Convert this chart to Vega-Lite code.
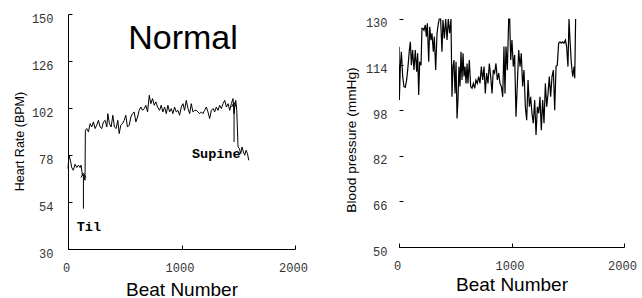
{
  "$schema": "https://vega.github.io/schema/vega-lite/v6.json",
  "background": "white",
  "padding": {"left": 13, "top": 12, "right": 5, "bottom": 0},
  "spacing": 36,
  "config": {
    "view": {"stroke": null},
    "axis": {
      "grid": false,
      "domainColor": "black",
      "domainWidth": 1,
      "tickColor": "black",
      "tickSize": -4,
      "labelFont": "Liberation Mono",
      "labelFontSize": 12,
      "labelColor": "#333333",
      "labelFlush": false,
      "titleFont": "Liberation Sans",
      "titleFontWeight": "normal",
      "titleColor": "black"
    },
    "axisX": {"labelPadding": 17, "labelOffset": -2, "titleFontSize": 19, "titlePadding": 4, "format": "d"},
    "axisY": {"labelPadding": 19, "labelOffset": 4, "titleFontSize": 12.5, "titlePadding": 5}
  },
  "datasets": {
    "hr": [
      {"beat":0,"v":71},{"beat":9,"v":77.9},{"beat":21,"v":75.3},{"beat":33,"v":71.6},{"beat":47,"v":70.2},{"beat":62,"v":73.3},{"beat":77,"v":71.6},{"beat":92,"v":72.8},{"beat":106,"v":71.6},{"beat":115,"v":72.8},{"beat":127,"v":67.6},{"beat":139,"v":67.6},{"beat":150,"v":65.1},{"beat":153,"v":90.6},{"beat":165,"v":91.5},{"beat":180,"v":89.8},{"beat":195,"v":94},{"beat":209,"v":92.3},{"beat":224,"v":94.9},{"beat":239,"v":91.5},{"beat":253,"v":93.2},{"beat":268,"v":95.7},{"beat":283,"v":92.3},{"beat":298,"v":91.5},{"beat":312,"v":94.9},{"beat":327,"v":95.7},{"beat":342,"v":92.3},{"beat":351,"v":99.1},{"beat":365,"v":94},{"beat":380,"v":92.3},{"beat":395,"v":98.3},{"beat":409,"v":92.3},{"beat":424,"v":91.5},{"beat":439,"v":95.7},{"beat":451,"v":88.9},{"beat":465,"v":93.2},{"beat":480,"v":94},{"beat":495,"v":95.7},{"beat":509,"v":98.3},{"beat":524,"v":92.3},{"beat":539,"v":93.2},{"beat":554,"v":97.4},{"beat":568,"v":99.1},{"beat":583,"v":100},{"beat":598,"v":94.9},{"beat":613,"v":97.4},{"beat":627,"v":100.8},{"beat":642,"v":102.5},{"beat":657,"v":100.8},{"beat":671,"v":101.7},{"beat":686,"v":103.4},{"beat":701,"v":100},{"beat":716,"v":108.5},{"beat":730,"v":104.2},{"beat":745,"v":106.8},{"beat":760,"v":103.4},{"beat":774,"v":105.1},{"beat":789,"v":102.5},{"beat":807,"v":100.8},{"beat":821,"v":103.4},{"beat":836,"v":100},{"beat":851,"v":102.5},{"beat":866,"v":99.1},{"beat":880,"v":103.4},{"beat":895,"v":100},{"beat":910,"v":101.7},{"beat":924,"v":99.1},{"beat":939,"v":102.5},{"beat":954,"v":100},{"beat":969,"v":100.8},{"beat":983,"v":98.3},{"beat":998,"v":102.5},{"beat":1013,"v":104.2},{"beat":1027,"v":100.8},{"beat":1042,"v":105.9},{"beat":1057,"v":101.7},{"beat":1072,"v":99.1},{"beat":1086,"v":104.2},{"beat":1101,"v":100},{"beat":1116,"v":100.8},{"beat":1130,"v":100.8},{"beat":1145,"v":100},{"beat":1160,"v":99.1},{"beat":1175,"v":100},{"beat":1189,"v":99.1},{"beat":1204,"v":100.8},{"beat":1219,"v":102.5},{"beat":1233,"v":100},{"beat":1248,"v":96.6},{"beat":1263,"v":100.8},{"beat":1278,"v":101.7},{"beat":1292,"v":100},{"beat":1307,"v":102.5},{"beat":1322,"v":100.8},{"beat":1336,"v":103.4},{"beat":1351,"v":101.7},{"beat":1366,"v":104.2},{"beat":1381,"v":105.9},{"beat":1395,"v":102.5},{"beat":1410,"v":104.2},{"beat":1425,"v":100.8},{"beat":1439,"v":104.2},{"beat":1454,"v":106.8},{"beat":1463,"v":99.1},{"beat":1469,"v":102.5},{"beat":1478,"v":105.9},{"beat":1487,"v":100.8},{"beat":1498,"v":82.1},{"beat":1510,"v":81.3},{"beat":1522,"v":78.7},{"beat":1534,"v":82.1},{"beat":1545,"v":79.6},{"beat":1557,"v":77.9},{"beat":1569,"v":80.4},{"beat":1581,"v":78.7},{"beat":1593,"v":75.3}
    ],
    "bp": [
      {"beat":0,"v":120.3},{"beat":3,"v":101.6},{"beat":12,"v":113.3},{"beat":21,"v":118.5},{"beat":33,"v":109.8},{"beat":44,"v":106.3},{"beat":56,"v":106},{"beat":68,"v":108.6},{"beat":80,"v":113.3},{"beat":92,"v":119.1},{"beat":101,"v":122},{"beat":110,"v":113.8},{"beat":121,"v":119.1},{"beat":133,"v":112.1},{"beat":145,"v":119.1},{"beat":157,"v":111.5},{"beat":166,"v":118},{"beat":175,"v":103.3},{"beat":184,"v":115},{"beat":196,"v":113.8},{"beat":204,"v":126.7},{"beat":213,"v":126.7},{"beat":222,"v":126},{"beat":234,"v":127.9},{"beat":243,"v":123.8},{"beat":252,"v":128.5},{"beat":264,"v":115},{"beat":273,"v":127.3},{"beat":284,"v":122.6},{"beat":293,"v":125},{"beat":305,"v":118.5},{"beat":314,"v":123.8},{"beat":326,"v":112.1},{"beat":338,"v":125},{"beat":350,"v":128.5},{"beat":358,"v":130},{"beat":370,"v":130},{"beat":382,"v":118.5},{"beat":391,"v":129.6},{"beat":403,"v":123.2},{"beat":415,"v":130},{"beat":427,"v":122.6},{"beat":438,"v":130},{"beat":450,"v":125},{"beat":462,"v":130},{"beat":471,"v":102.7},{"beat":480,"v":113.3},{"beat":489,"v":115.6},{"beat":498,"v":103.9},{"beat":507,"v":115},{"beat":516,"v":95.1},{"beat":525,"v":102.7},{"beat":533,"v":113.3},{"beat":542,"v":106.3},{"beat":551,"v":118.5},{"beat":560,"v":108.6},{"beat":569,"v":118},{"beat":578,"v":109.8},{"beat":587,"v":113.3},{"beat":596,"v":107.4},{"beat":605,"v":114.4},{"beat":613,"v":107.4},{"beat":625,"v":115.6},{"beat":637,"v":106.3},{"beat":649,"v":105.7},{"beat":661,"v":107.4},{"beat":673,"v":105.7},{"beat":684,"v":108.6},{"beat":696,"v":107.4},{"beat":708,"v":109.8},{"beat":720,"v":107.4},{"beat":732,"v":113.3},{"beat":744,"v":108.6},{"beat":756,"v":113.3},{"beat":767,"v":103.9},{"beat":779,"v":111},{"beat":791,"v":107.4},{"beat":803,"v":114.4},{"beat":815,"v":109.8},{"beat":827,"v":103.9},{"beat":838,"v":112.1},{"beat":850,"v":111},{"beat":862,"v":114.4},{"beat":874,"v":108.6},{"beat":886,"v":111},{"beat":898,"v":107.4},{"beat":910,"v":106.3},{"beat":922,"v":102.7},{"beat":933,"v":120.3},{"beat":942,"v":103.9},{"beat":951,"v":120.3},{"beat":963,"v":112},{"beat":975,"v":130},{"beat":984,"v":130},{"beat":993,"v":115.6},{"beat":1004,"v":122.6},{"beat":1016,"v":113.3},{"beat":1028,"v":117.4},{"beat":1040,"v":95.7},{"beat":1052,"v":107.4},{"beat":1064,"v":119.1},{"beat":1076,"v":113.3},{"beat":1087,"v":118},{"beat":1099,"v":106.3},{"beat":1111,"v":112.1},{"beat":1123,"v":99.2},{"beat":1135,"v":94.5},{"beat":1147,"v":108.6},{"beat":1159,"v":99.2},{"beat":1170,"v":102.7},{"beat":1182,"v":96.9},{"beat":1194,"v":93.4},{"beat":1206,"v":101.6},{"beat":1218,"v":89.3},{"beat":1230,"v":99.2},{"beat":1242,"v":96.9},{"beat":1253,"v":102.7},{"beat":1265,"v":91},{"beat":1277,"v":101.6},{"beat":1289,"v":93.4},{"beat":1301,"v":107.4},{"beat":1313,"v":99.2},{"beat":1325,"v":103.9},{"beat":1336,"v":109.8},{"beat":1348,"v":102.7},{"beat":1360,"v":109.8},{"beat":1372,"v":112.1},{"beat":1384,"v":98},{"beat":1396,"v":113.3},{"beat":1407,"v":113.8},{"beat":1419,"v":121.5},{"beat":1431,"v":122},{"beat":1443,"v":121.5},{"beat":1455,"v":122},{"beat":1467,"v":121.5},{"beat":1479,"v":122.6},{"beat":1490,"v":120.3},{"beat":1502,"v":113.3},{"beat":1511,"v":130},{"beat":1520,"v":122.6},{"beat":1532,"v":114.4},{"beat":1544,"v":109.8},{"beat":1556,"v":113.3},{"beat":1562,"v":109.2},{"beat":1570,"v":130}
    ],
    "arrows": [
      {"beat":136,"v":50.6,"v2":68},
      {"beat":1463,"v":84.6,"v2":104}
    ],
    "notes": [
      {"beat":77,"v":41.1,"label":"Til"},
      {"beat":1092,"v":78.4,"label":"Supine"}
    ],
    "heading": [
      {"beat":1013,"v":137.3,"label":"Normal"}
    ]
  },
  "hconcat": [
    {
      "width": 227,
      "height": 235,
      "layer": [
        {
          "data": {"name": "hr"},
          "mark": {"type": "line", "color": "black", "strokeWidth": 1},
          "encoding": {
            "x": {"field": "beat", "type": "quantitative", "scale": {"domain": [0, 2000], "nice": false}, "axis": {"values": [0, 1000, 2000], "title": "Beat Number", "titlePadding": 7}},
            "y": {"field": "v", "type": "quantitative", "scale": {"domain": [30, 150], "nice": false, "zero": false}, "axis": {"values": [30, 54, 78, 102, 126, 150], "title": "Heart Rate (BPM)", "titleY": 127}}
          }
        },
        {
          "data": {"name": "arrows"},
          "mark": {"type": "rule", "color": "black", "strokeWidth": 1},
          "encoding": {
            "x": {"field": "beat", "type": "quantitative"},
            "y": {"field": "v", "type": "quantitative"},
            "y2": {"field": "v2"}
          }
        },
        {
          "data": {"name": "arrows"},
          "mark": {"type": "point", "shape": "M-1,1.2L0,-0.6L1,1.2", "filled": false, "stroke": "black", "strokeWidth": 1, "size": 25, "opacity": 1},
          "encoding": {
            "x": {"field": "beat", "type": "quantitative"},
            "y": {"field": "v2", "type": "quantitative"}
          }
        },
        {
          "data": {"name": "notes"},
          "mark": {"type": "text", "font": "Liberation Mono", "fontWeight": "bold", "fontSize": 13.5, "align": "left", "baseline": "middle", "color": "black"},
          "encoding": {
            "x": {"field": "beat", "type": "quantitative"},
            "y": {"field": "v", "type": "quantitative"},
            "text": {"field": "label"}
          }
        },
        {
          "data": {"name": "heading"},
          "mark": {"type": "text", "font": "Liberation Sans", "fontSize": 34, "align": "center", "baseline": "middle", "color": "black"},
          "encoding": {
            "x": {"field": "beat", "type": "quantitative"},
            "y": {"field": "v", "type": "quantitative"},
            "text": {"field": "label"}
          }
        }
      ]
    },
    {
      "width": 225,
      "height": 233,
      "layer": [
        {
          "data": {"name": "bp"},
          "mark": {"type": "line", "color": "black", "strokeWidth": 1.2, "clip": true},
          "encoding": {
            "x": {"field": "beat", "type": "quantitative", "scale": {"domain": [0, 2000], "nice": false}, "axis": {"values": [0, 1000, 2000], "title": "Beat Number"}},
            "y": {"field": "v", "type": "quantitative", "scale": {"domain": [50, 131.75], "nice": false, "zero": false}, "axis": {"values": [50, 66, 82, 98, 114, 130], "title": "Blood pressure (mmHg)", "titleFontSize": 13.7, "titlePadding": 7, "labelPadding": 16, "domain": false, "titleY": 125.5}}
          }
        },
        {
          "mark": {"type": "rule", "color": "black", "strokeWidth": 1},
          "encoding": {
            "x": {"datum": 0, "type": "quantitative"},
            "y": {"datum": 50, "type": "quantitative"},
            "y2": {"datum": 130}
          }
        }
      ]
    }
  ]
}
